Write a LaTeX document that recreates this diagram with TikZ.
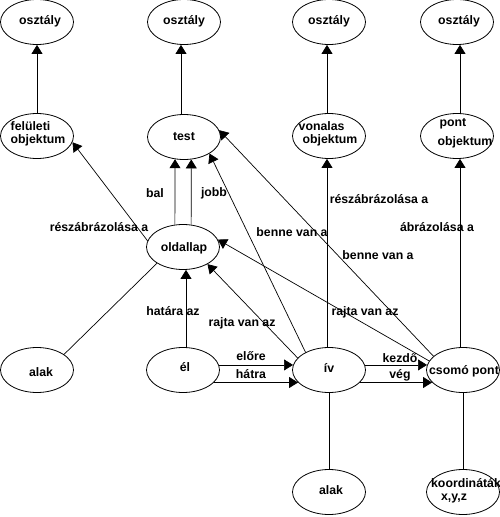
\documentclass[tikz,border=0pt]{standalone}
\usepackage{fontspec}
\setmainfont{Liberation Sans}
\usetikzlibrary{shapes.geometric,arrows.meta}
\begin{document}
\begin{tikzpicture}[x=1pt,y=-1pt,
  ell/.style={draw, ellipse, minimum width=73pt, minimum height=45pt, inner sep=0pt, line width=0.8pt},
  txt/.style={font=\bfseries\fontsize{12.3}{13}\selectfont, inner sep=0pt},
  lnk/.style={line width=0.7pt},
  arr/.style={lnk, -{Triangle[length=9pt,width=11pt]}}]
\useasboundingbox (0,0) rectangle (500,517);
% ellipses
\node[ell] (o1) at (37,22) {};
\node[ell] (o2) at (184,22) {};
\node[ell] (o3) at (329,22) {};
\node[ell] (o4) at (457,22) {};
\node[ell] (felu) at (37,136) {};
\node[ell] (test) at (184,137) {};
\node[ell] (vona) at (329,136) {};
\node[ell] (pont) at (457,136) {};
\node[ell] (old) at (183,247) {};
\node[ell] (alak1) at (37,370) {};
\node[ell] (el) at (183,370) {};
\node[ell] (iv) at (329,370) {};
\node[ell] (csomo) at (463,370) {};
\node[ell] (alak2) at (329,492) {};
\node[ell] (koord) at (463,492) {};
% node texts
\node[txt] (o1t) at (40,21) {osztály};
\node[txt] (o2t) at (184,21) {osztály};
\node[txt] (o3t) at (329,21) {osztály};
\node[txt] (o4t) at (459,21) {osztály};
\node[txt, align=left] (felut) at (38,134) {felületi\\objektum};
\node[txt] (testt) at (184,137) {test};
\node[txt, align=left] (vonat) at (328,134) {vonalas\\\hspace*{4pt}objektum};
\node[txt, align=left] (pontt) at (465,133) {\hspace*{2pt}pont\\[6pt]objektum};
\node[txt] (oldt) at (184,248) {oldallap};
\node[txt] (alak1t) at (41,372) {alak};
\node[txt] (elt) at (185,367) {él};
\node[txt] (ivt) at (329,368) {ív};
\node[txt] (csomot) at (464,371) {csomó pont};
\node[txt] (alak2t) at (331,490) {alak};
\node[txt, align=left] (koordt) at (466,491) {koordináták\\\hspace*{10pt}x,y,z};
% vertical arrows to osztaly
\draw[arr] (felu.north) -- (o1.south);
\draw[arr] ([xshift=-3pt]test.north) -- ([xshift=-3pt]o2.south);
\draw[arr] ([xshift=-2pt]vona.north) -- ([xshift=-2pt]o3.south);
\draw[arr] ([xshift=3pt]pont.north) -- ([xshift=3pt]o4.south);
% oldallap -> test
\draw[arr] (old.110) -- (test.248);
\draw[arr] (old.70) -- (test.288);
\node[txt] (balt) at (155,193) {bal};
\node[txt] (jobbt) at (214,193) {jobb};
% oldallap -> feluleti
\draw[arr] (old.170) -- (felu.350);
\node[txt] (resz1) at (99,227) {részábrázolása a};
% alak -> oldallap
\draw[lnk] (alak1.30) -- (old.212);
% el -> oldallap
\draw[arr] ([xshift=3pt]el.north) -- ([xshift=3pt]old.south);
\node[txt] (hatt) at (173,311) {határa az};
% el -> iv
\draw[arr] (el.8) -- (iv.172);
\draw[arr] (el.-22) -- (iv.202);
\node[txt] (elot) at (251,356) {előre};
\node[txt] (hatrat) at (251,374) {hátra};
% iv -> csomo
\draw[arr] (iv.8) -- (csomo.172);
\draw[arr] (iv.-22) -- (csomo.202);
\node[txt] (kezt) at (400,358) {kezdő};
\node[txt] (vegt) at (400,375) {vég};
% iv -> vonalas
\draw[arr] ([xshift=-2pt]iv.north) -- ([xshift=-2pt]vona.south);
\node[txt] (resz2) at (379,199) {részábrázolása a};
% csomo -> pont
\draw[arr] ([xshift=-3pt]csomo.north) -- ([xshift=3pt]pont.south);
\node[txt] (abrt) at (437,227) {ábrázolása a};
% iv -> test
\draw[arr] (iv.143) -- (test.327);
\node[txt] (benne1) at (292,232) {benne van a};
% csomo -> test
\draw[arr] (csomo.155) -- (test.11);
\node[txt] (benne2) at (378,255) {benne van a};
% csomo -> oldallap
\draw[arr] (csomo.165) -- (old.12);
\node[txt] (rajta2) at (365,312) {rajta van az};
% iv -> oldallap
\draw[arr] (iv.159) -- (old.325);
\node[txt] (rajta1) at (242,323) {rajta van az};
% lower lines
\draw[lnk] (iv.south) -- (alak2.north);
\draw[lnk] (csomo.south) -- (koord.north);
\end{tikzpicture}
\end{document}
